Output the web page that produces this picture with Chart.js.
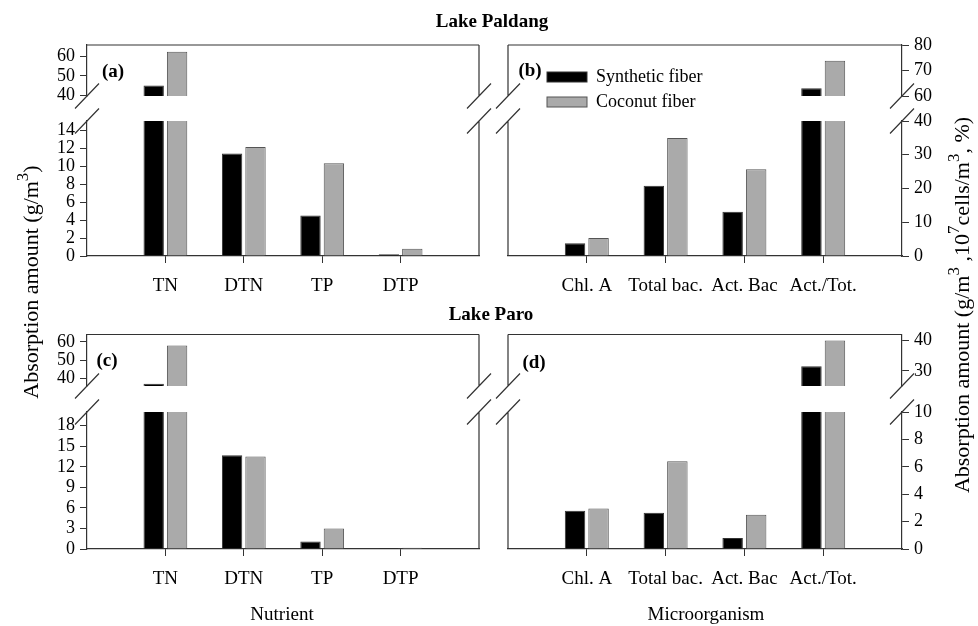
<!DOCTYPE html>
<html>
<head>
<meta charset="utf-8">
<script src="https://cdn.jsdelivr.net/npm/chart.js@4.4.1/dist/chart.umd.min.js"></script>
<style>
  body { margin: 0; background: #fff; }
  #wrap { position: relative; width: 978px; height: 626px; }
  #wrap canvas { position: absolute; left: 0; top: 0; }
</style>
</head>
<body>
<div id="wrap"></div>
<script>
const nutrients = ['TN', 'DTN', 'TP', 'DTP']
const microbes = ['Chl. A', 'Total bac.', 'Act. Bac', 'Act./Tot.']
const seriesNames = ['Synthetic fiber', 'Coconut fiber']

// Lake Paldang
const paldangNutSyn = [45, 11.4, 4.5, 0.2]
const paldangNutCoc = [62.5, 12.1, 10.3, 0.8]
const paldangMicSyn = [3.8, 20.8, 13.1, 63]
const paldangMicCoc = [5.3, 35, 25.7, 73.8]
// Lake Paro
const paroNutSyn = [37, 13.7, 1.1, 0.15]
const paroNutCoc = [58, 13.5, 3.0, 0.2]
const paroMicSyn = [2.8, 2.65, 0.8, 31.5]
const paroMicCoc = [2.95, 6.4, 2.5, 40]

// broken axes: tick labels of upper and lower part
const ticksA = [[40, 50, 60], [0, 2, 4, 6, 8, 10, 12, 14]]
const ticksB = [[60, 70, 80], [0, 10, 20, 30, 40]]
const ticksC = [[40, 50, 60], [0, 3, 6, 9, 12, 15, 18]]
const ticksD = [[30, 40], [0, 2, 4, 6, 8, 10]]
// [upper min, upper max, lower max]
const rangeA = [39.5, 66, 15]
const rangeB = [60, 80, 40]
const rangeC = [35.8, 64, 20]
const rangeD = [25, 42, 10]

const W = 978, H = 626
const AXIS_W = 40, XAXIS_H = 40
const serif = "'Liberation Serif', 'Times New Roman', serif"
const lineCol = '#333'

// plot boxes (top, break start, break end, bottom) and (left, right)
const rows = [
  {top: 45, brk1: 96, brk2: 121, bottom: 256},
  {top: 334.5, brk1: 386, brk2: 412, bottom: 549}
]
const cols = [{left: 87, right: 479}, {left: 508, right: 902}]

const wrap = document.getElementById('wrap')

// box lines + break marks
const framePlugin = {
  id: 'frame',
  afterDraw(chart, args, opts) {
    const {ctx, chartArea: a} = chart
    ctx.save()
    ctx.strokeStyle = lineCol
    ctx.lineWidth = 1.2
    ctx.beginPath()
    if (opts.upper) {
      ctx.moveTo(a.left, a.top); ctx.lineTo(a.right, a.top)
    }
    const xFree = opts.side === 'right' ? a.left : a.right
    ctx.moveTo(xFree, a.top); ctx.lineTo(xFree, a.bottom)
    const yb = opts.upper ? a.bottom : a.top
    for (const x of [a.left, a.right]) {
      ctx.moveTo(x - 12, yb + 12.5); ctx.lineTo(x + 12, yb - 12.5)
    }
    ctx.stroke()
    ctx.restore()
  }
}

function richText(ctx, parts, x, y, size, bold, angle) {
  ctx.save()
  ctx.translate(x, y)
  ctx.rotate(angle || 0)
  ctx.fillStyle = '#000'
  ctx.textBaseline = 'alphabetic'
  const fontOf = p => (bold ? 'bold ' : '') + (p[1] ? Math.round(size * 0.75) : size) + 'px ' + serif
  let total = 0
  parts.forEach(p => { ctx.font = fontOf(p); total += ctx.measureText(p[0]).width })
  let cx = -total / 2
  const base = size * 0.33
  parts.forEach(p => {
    ctx.font = fontOf(p)
    ctx.fillText(p[0], cx, p[1] ? base - size * 0.45 : base)
    cx += ctx.measureText(p[0]).width
  })
  ctx.restore()
}

// titles, axis titles, panel letters and legend
const textPlugin = {
  id: 'texts',
  afterDraw(chart) {
    const ctx = chart.ctx
    richText(ctx, [['Lake Paldang']], 492, 21, 19, true)
    richText(ctx, [['Lake Paro']], 491, 314, 19, true)
    richText(ctx, [['(a)']], 113, 71, 19, true)
    richText(ctx, [['(b)']], 530, 70, 19, true)
    richText(ctx, [['(c)']], 107, 360, 19, true)
    richText(ctx, [['(d)']], 534, 362, 19, true)
    richText(ctx, [['Nutrient']], 282, 614, 19)
    richText(ctx, [['Microorganism']], 706, 614, 19)
    richText(ctx, [['Absorption amount (g/m'], ['3', true], [')']], 31, 282, 22, false, -Math.PI / 2)
    richText(ctx, [['Absorption amount (g/m'], ['3', true], [' ,10'], ['7', true], ['cells/m'], ['3', true], [', %)']],
      962, 305, 22, false, -Math.PI / 2)

    // legend of panel (b)
    const colors = [['#000', '#333'], ['#aaa', '#555']]
    seriesNames.forEach((name, i) => {
      const y = 72 + i * 25
      ctx.save()
      ctx.fillStyle = colors[i][0]
      ctx.strokeStyle = colors[i][1]
      ctx.lineWidth = 1
      ctx.fillRect(547, y, 40, 10)
      ctx.strokeRect(547, y, 40, 10)
      ctx.restore()
      ctx.save()
      ctx.font = '18px ' + serif
      ctx.fillStyle = '#000'
      ctx.textBaseline = 'middle'
      ctx.fillText(name, 596, y + 5)
      ctx.restore()
    })
  }
}

function makePart(o) {
  const cv = document.createElement('canvas')
  cv.width = W
  cv.height = H
  wrap.appendChild(cv)
  const right = o.side === 'right'
  return new Chart(cv, {
    type: 'bar',
    data: {
      labels: ['', ...o.labels, ''],
      datasets: [
        {label: seriesNames[0], data: [null, ...o.syn, null], backgroundColor: '#000', borderColor: '#333', borderWidth: 1},
        {label: seriesNames[1], data: [null, ...o.coc, null], backgroundColor: '#aaa', borderColor: '#555', borderWidth: 1}
      ]
    },
    options: {
      responsive: false,
      animation: false,
      events: [],
      datasets: {bar: {categoryPercentage: 0.597, barPercentage: 0.87, clip: 0}},
      layout: {
        padding: {
          left: right ? o.left : o.left - AXIS_W,
          right: right ? W - o.right - AXIS_W : W - o.right,
          top: o.top,
          bottom: o.upper ? H - o.bottom : H - o.bottom - XAXIS_H
        }
      },
      plugins: {
        legend: {display: false},
        tooltip: {enabled: false},
        frame: {upper: o.upper, side: o.side}
      },
      scales: {
        x: {
          display: !o.upper,
          offset: false,
          afterFit: s => { s.height = o.upper ? 0 : XAXIS_H },
          grid: {
            offset: false,
            drawOnChartArea: false,
            tickLength: 7,
            color: c => (c.tick && c.tick.label) ? lineCol : 'rgba(0,0,0,0)'
          },
          border: {color: lineCol, width: 1.2},
          ticks: {font: {family: serif, size: 19}, color: '#000', padding: 12, maxRotation: 0, autoSkip: false}
        },
        y: {
          position: o.side,
          min: o.min,
          max: o.max,
          afterBuildTicks: s => { s.ticks = o.ticks.map(v => ({value: v})) },
          afterFit: s => { s.width = AXIS_W },
          grid: {drawOnChartArea: false, tickLength: 7, color: lineCol},
          border: {color: lineCol, width: 1.2},
          ticks: {font: {family: serif, size: 18}, color: '#000', padding: 5, autoSkip: false}
        }
      }
    },
    plugins: o.extra ? [framePlugin, o.extra] : [framePlugin]
  })
}

const panels = [
  {col: 0, row: 0, labels: nutrients, syn: paldangNutSyn, coc: paldangNutCoc, ticks: ticksA, range: rangeA, side: 'left'},
  {col: 1, row: 0, labels: microbes, syn: paldangMicSyn, coc: paldangMicCoc, ticks: ticksB, range: rangeB, side: 'right'},
  {col: 0, row: 1, labels: nutrients, syn: paroNutSyn, coc: paroNutCoc, ticks: ticksC, range: rangeC, side: 'left'},
  {col: 1, row: 1, labels: microbes, syn: paroMicSyn, coc: paroMicCoc, ticks: ticksD, range: rangeD, side: 'right'}
]

panels.forEach((p, i) => {
  const c = cols[p.col], r = rows[p.row]
  const common = {labels: p.labels, syn: p.syn, coc: p.coc, side: p.side, left: c.left, right: c.right}
  makePart({...common, upper: true, top: r.top, bottom: r.brk1,
    min: p.range[0], max: p.range[1], ticks: p.ticks[0]})
  makePart({...common, upper: false, top: r.brk2, bottom: r.bottom,
    min: 0, max: p.range[2], ticks: p.ticks[1], extra: i === panels.length - 1 ? textPlugin : null})
})
</script>
</body>
</html>
